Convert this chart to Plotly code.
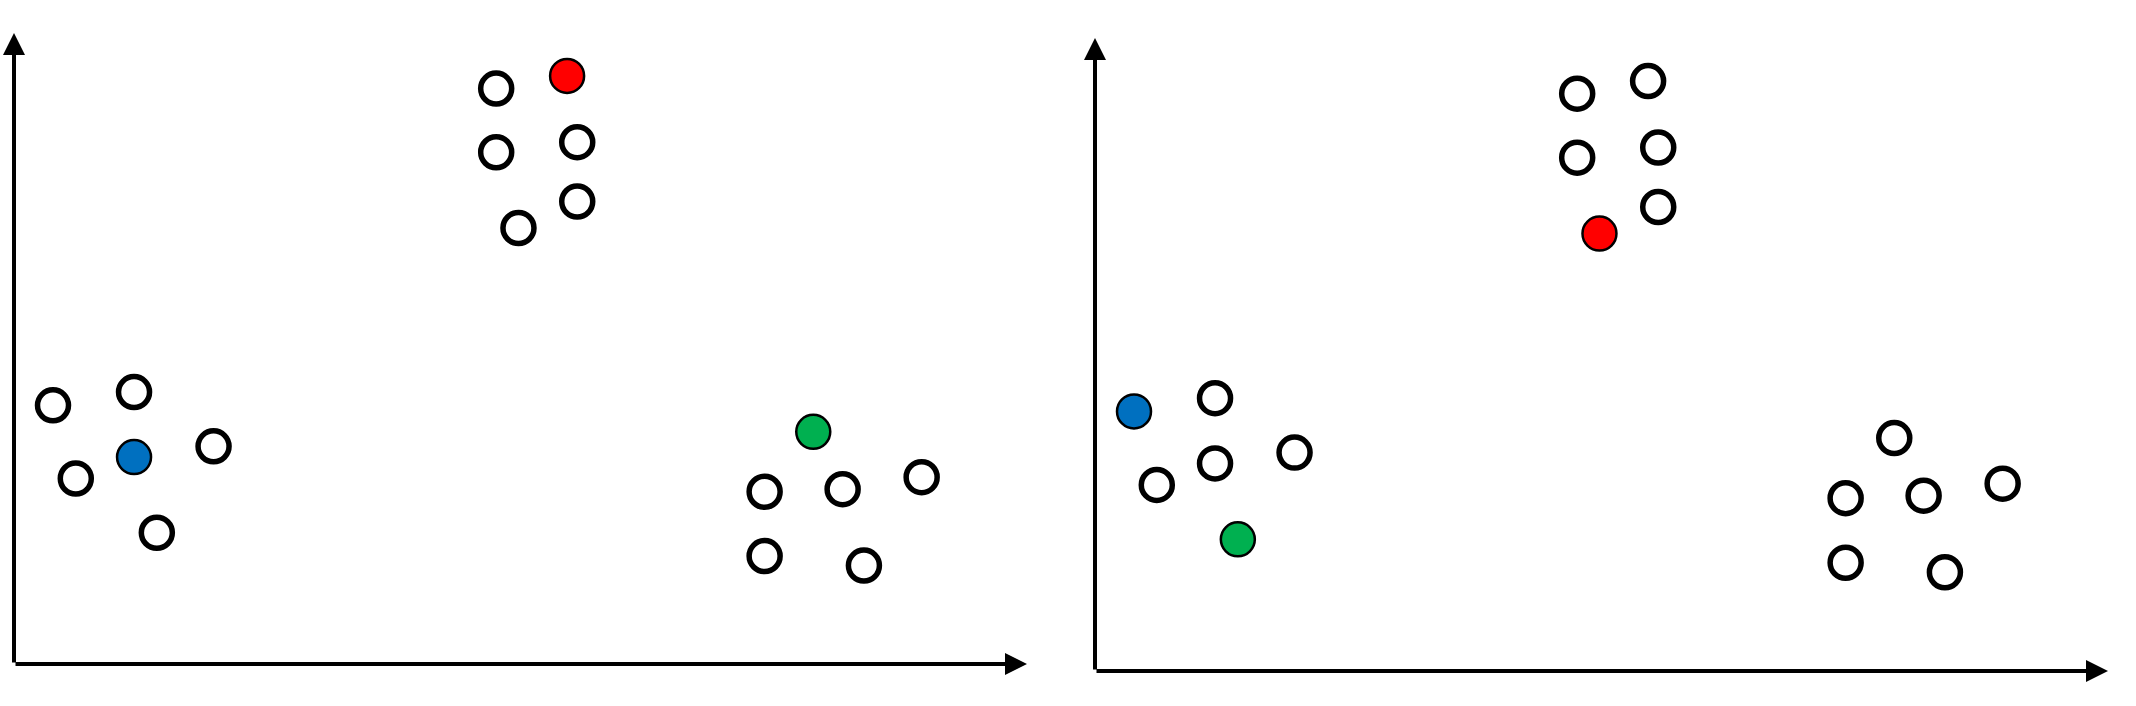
import plotly.graph_objects as go

# All 18 data points (same set in both panels), units 0-100 along each axis
point_x = [47.6, 54.6, 47.6, 55.6, 55.6, 49.8,
           3.85, 11.85, 11.85, 19.7, 6.1, 14.1,
           78.9, 74.1, 81.8, 89.6, 74.1, 83.9]
point_y = [91.2, 93.2, 81.1, 82.7, 73.3, 69.1,
           41.0, 43.1, 32.8, 34.5, 29.4, 20.8,
           36.8, 27.3, 27.7, 29.6, 17.1, 15.6]

# indices of the highlighted (centroid) points: red, blue, green
left_centroids = [1, 8, 12]
right_centroids = [5, 6, 11]
centroid_colors = ["#FF0000", "#0070C0", "#00B050"]

W, H = 2136, 706
panels = [
    dict(xd=[14 / W, 1027 / W], yd=[(H - 664) / H, (H - 33) / H], cents=left_centroids),
    dict(xd=[1095 / W, 2108 / W], yd=[(H - 671) / H, (H - 38) / H], cents=right_centroids),
]

fig = go.Figure()
annotations = []
for i, p in enumerate(panels):
    xa = "x" if i == 0 else "x2"
    ya = "y" if i == 0 else "y2"
    wx = [point_x[k] for k in range(len(point_x)) if k not in p["cents"]]
    wy = [point_y[k] for k in range(len(point_y)) if k not in p["cents"]]
    fig.add_trace(go.Scatter(
        x=wx, y=wy, mode="markers", xaxis=xa, yaxis=ya, showlegend=False,
        cliponaxis=False,
        marker=dict(symbol="circle", size=31, color="white",
                    line=dict(color="black", width=5.5)),
    ))
    fig.add_trace(go.Scatter(
        x=[point_x[k] for k in p["cents"]], y=[point_y[k] for k in p["cents"]],
        mode="markers", xaxis=xa, yaxis=ya, showlegend=False, cliponaxis=False,
        marker=dict(symbol="circle", size=34, color=centroid_colors,
                    line=dict(color="black", width=2.5)),
    ))
    for (tx, ty) in [(100, 0), (0, 100)]:
        annotations.append(dict(
            x=tx, y=ty, ax=0, ay=0, xref=xa, yref=ya, axref=xa, ayref=ya,
            text="", showarrow=True, arrowhead=2, arrowsize=1.1,
            arrowwidth=4, arrowcolor="black", standoff=0,
        ))

fig.update_layout(
    width=W, height=H,
    margin=dict(l=0, r=0, t=0, b=0),
    paper_bgcolor="white", plot_bgcolor="white",
    annotations=annotations,
    xaxis=dict(domain=panels[0]["xd"], range=[0, 100], visible=False),
    yaxis=dict(domain=panels[0]["yd"], range=[0, 100], visible=False),
    xaxis2=dict(domain=panels[1]["xd"], range=[0, 100], visible=False, anchor="y2"),
    yaxis2=dict(domain=panels[1]["yd"], range=[0, 100], visible=False, anchor="x2"),
)

fig.write_html("out.html", config={"displayModeBar": False},
               post_script="document.body.style.margin='0';")
